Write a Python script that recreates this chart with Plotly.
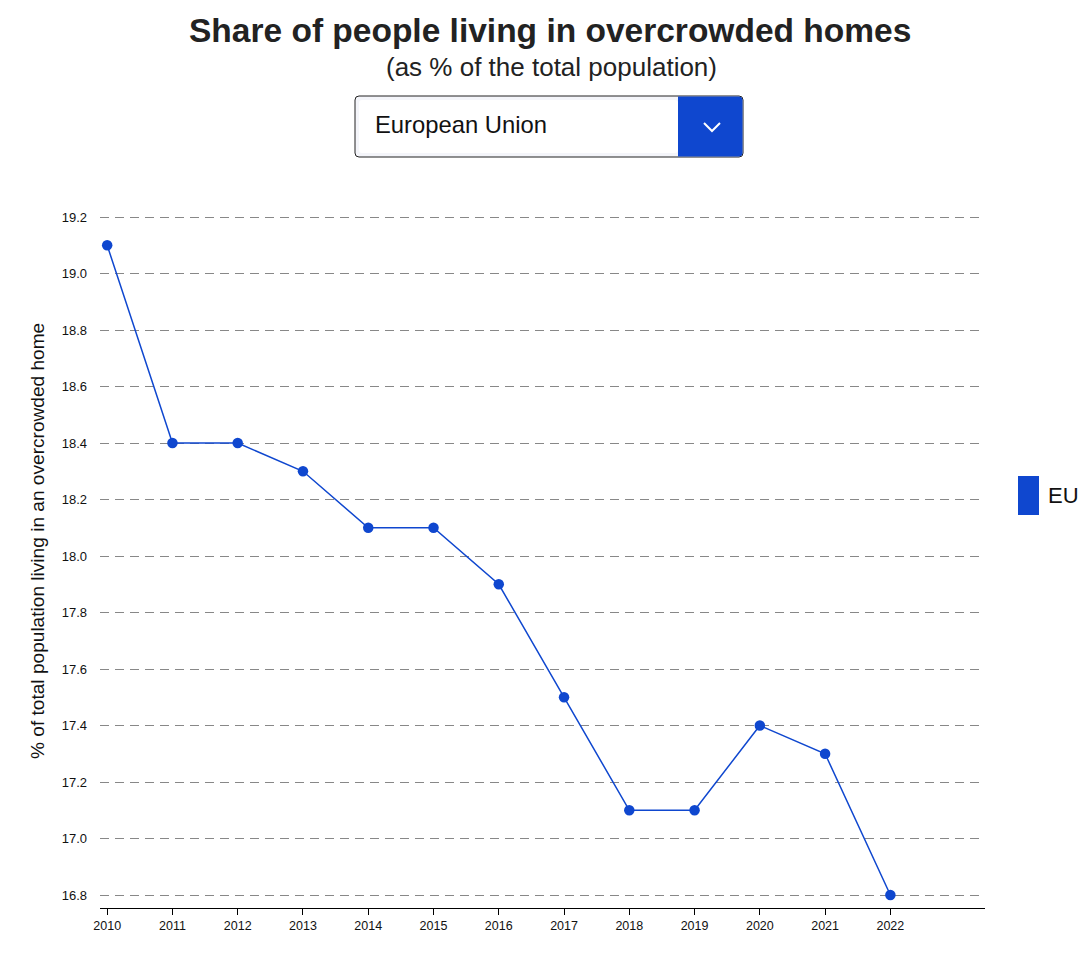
import plotly.graph_objects as go

years = [2010, 2011, 2012, 2013, 2014, 2015, 2016, 2017, 2018, 2019, 2020, 2021, 2022]
values = [19.1, 18.4, 18.4, 18.3, 18.1, 18.1, 17.9, 17.5, 17.1, 17.1, 17.4, 17.3, 16.8]
series_name = "EU"
selected_country = "European Union"
title_text = "Share of people living in overcrowded homes"
subtitle_text = "(as % of the total population)"
y_title = "% of total population living in an overcrowded home"

OFF = 8  # page margin offset of the screenshot
W, H = 1087 - OFF, 955 - OFF
L, R, T, B = 100 - OFF, 985 - OFF, 210 - OFF, 908 - OFF
BLUE = "#0f47cf"
FONT = "Liberation Sans, Arial"


def px(x):
    return (x - OFF - L) / (R - L)


def py(y):
    return (B - (y - OFF)) / (B - T)


def rounded_rect(x0, y0, x1, y1, r, left=True, right=True):
    rl = r if left else 0
    rr = r if right else 0
    p = f"M {px(x0 + rl)} {py(y0)} L {px(x1 - rr)} {py(y0)} "
    if rr:
        p += f"Q {px(x1)} {py(y0)} {px(x1)} {py(y0 + rr)} "
    p += f"L {px(x1)} {py(y1 - rr)} "
    if rr:
        p += f"Q {px(x1)} {py(y1)} {px(x1 - rr)} {py(y1)} "
    p += f"L {px(x0 + rl)} {py(y1)} "
    if rl:
        p += f"Q {px(x0)} {py(y1)} {px(x0)} {py(y1 - rl)} "
    p += f"L {px(x0)} {py(y0 + rl)} "
    if rl:
        p += f"Q {px(x0)} {py(y0)} {px(x0 + rl)} {py(y0)} "
    return p + "Z"


fig = go.Figure()
fig.add_trace(go.Scatter(
    x=years, y=values, mode="lines+markers", name=series_name,
    line=dict(color=BLUE, width=1.5),
    marker=dict(color=BLUE, size=10.5),
    showlegend=False,
))

shapes = []
# dropdown box
x0, x1, y0, y1 = 355, 743, 96, 157
shapes.append(dict(type="path", xref="paper", yref="paper",
                   path=rounded_rect(x0, y0, x1, y1, 4),
                   fillcolor="#f4f5fa", line=dict(color="#222222", width=1), layer="above"))
shapes.append(dict(type="path", xref="paper", yref="paper",
                   path=rounded_rect(x0 + 4, y0 + 4, 678, y1 - 4, 3),
                   fillcolor="white", line=dict(width=0), layer="above"))
shapes.append(dict(type="path", xref="paper", yref="paper",
                   path=rounded_rect(678, y0 + 0.5, x1 - 0.5, y1 - 0.5, 4, left=False),
                   fillcolor=BLUE, line=dict(width=0), layer="above"))
# chevron
cx, cy = 712, 127
shapes.append(dict(type="path", xref="paper", yref="paper",
                   path=f"M {px(cx-8)} {py(cy-4)} L {px(cx)} {py(cy+4)} L {px(cx+8)} {py(cy-4)}",
                   line=dict(color="white", width=2), layer="above"))
# legend swatch
shapes.append(dict(type="rect", xref="paper", yref="paper",
                   x0=px(1018), x1=px(1039), y0=py(515), y1=py(476),
                   fillcolor=BLUE, line=dict(width=0), layer="above"))

annotations = [
    dict(text=f"<b>{title_text}</b>", xref="paper", yref="paper", x=px(550), y=py(31),
         showarrow=False, font=dict(size=33.5, color="#222222", family=FONT),
         xanchor="center", yanchor="middle"),
    dict(text=subtitle_text, xref="paper", yref="paper", x=px(551), y=py(67),
         showarrow=False, font=dict(size=26, color="#222222", family=FONT),
         xanchor="center", yanchor="middle"),
    dict(text=selected_country, xref="paper", yref="paper", x=px(373), y=py(124),
         showarrow=False, font=dict(size=23.8, color="#111111", family=FONT),
         xanchor="left", yanchor="middle"),
    dict(text=series_name, xref="paper", yref="paper", x=px(1046), y=py(496),
         showarrow=False, font=dict(size=22, color="#111111", family=FONT),
         xanchor="left", yanchor="middle"),
    dict(text=y_title, xref="paper", yref="paper", x=px(37), y=py(541),
         showarrow=False, textangle=-90, font=dict(size=19.1, color="#111111", family=FONT),
         xanchor="center", yanchor="middle"),
]

fig.update_layout(
    width=W, height=H,
    margin=dict(l=L, r=W - R, t=T, b=H - B, pad=0),
    paper_bgcolor="white", plot_bgcolor="white",
    font=dict(family=FONT, color="#111111"),
    shapes=shapes, annotations=annotations,
    showlegend=False,
)
fig.update_xaxes(
    range=[2009.89, 2023.45], tickvals=years, ticktext=[str(y) for y in years],
    showgrid=False, zeroline=False, showline=True, linecolor="black", linewidth=1,
    ticks="outside", ticklen=6, tickcolor="black", tickfont=dict(size=12.5),
)
fig.update_yaxes(
    range=[16.754, 19.225], tick0=16.8, dtick=0.2, tickformat=".1f",
    showgrid=True, gridcolor="#888888", griddash="9px,6px", gridwidth=1,
    zeroline=False, showline=False, ticks="", ticklabelstandoff=12,
    tickfont=dict(size=13),
)

fig.write_html("out.html")
